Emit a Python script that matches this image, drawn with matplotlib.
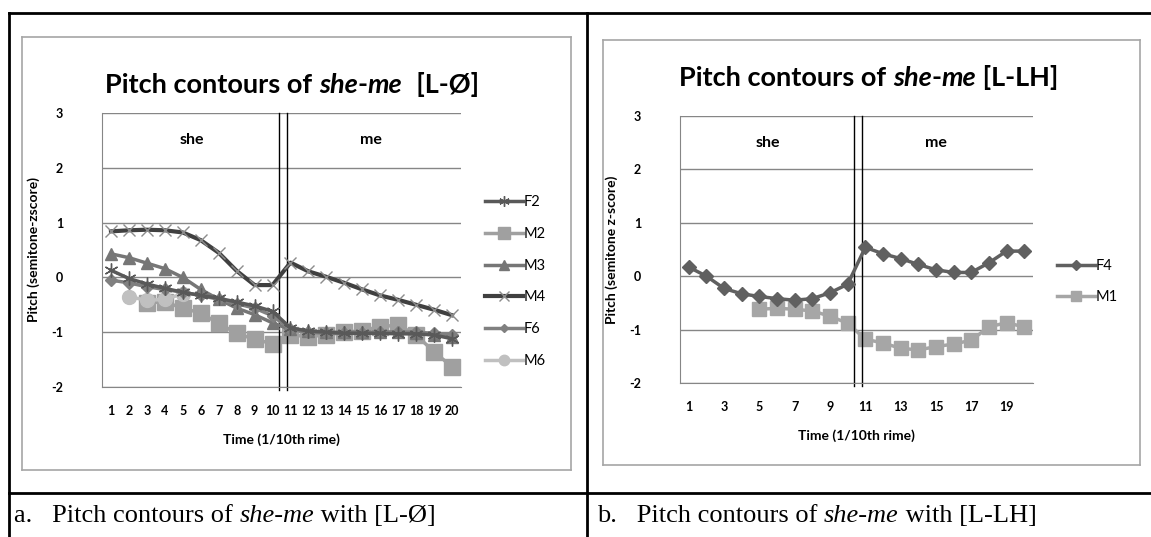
import matplotlib.pyplot as plt
from matplotlib.lines import Line2D

W, H = 1151, 537

# time points (1/10th of the rime)
frames = list(range(1, 21))

# [L-Ø] speakers
f2 = [0.13, -0.02, -0.12, -0.2, -0.27, -0.33, -0.38, -0.45, -0.52, -0.62,
      -0.92, -0.98, -1.0, -1.02, -1.02, -1.02, -1.03, -1.03, -1.05, -1.12]
m2_x = list(range(3, 21))
m2 = [-0.46, -0.45, -0.56, -0.65, -0.84, -1.02, -1.13, -1.21,
      -1.05, -1.08, -1.05, -1.0, -0.97, -0.9, -0.87, -1.05, -1.36, -1.63]
m3 = [0.43, 0.36, 0.26, 0.16, 0.0, -0.22, -0.4, -0.56, -0.68, -0.83,
      -0.95, -0.98, -1.0, -1.0, -1.0, -1.0, -1.0, -1.02, -1.05, -1.08]
m4 = [0.84, 0.86, 0.87, 0.86, 0.82, 0.68, 0.45, 0.12, -0.14, -0.14,
      0.27, 0.11, 0.01, -0.1, -0.22, -0.33, -0.41, -0.5, -0.59, -0.69]
f6 = [-0.05, -0.1, -0.17, -0.22, -0.27, -0.33, -0.4, -0.48, -0.56, -0.7,
      -0.95, -1.0, -1.02, -1.02, -1.02, -1.0, -1.0, -1.0, -1.02, -1.05]
m6_x = [2, 3, 4, 5]
m6 = [-0.35, -0.42, -0.4, -0.3]

# [L-LH] speakers
f4 = [0.17, 0.0, -0.23, -0.33, -0.38, -0.42, -0.45, -0.42, -0.31, -0.15,
      0.54, 0.42, 0.33, 0.22, 0.12, 0.07, 0.07, 0.25, 0.47, 0.47]
m1_x = list(range(5, 21))
m1 = [-0.62, -0.6, -0.62, -0.65, -0.75, -0.88, -1.18, -1.25, -1.35, -1.38,
      -1.32, -1.27, -1.2, -0.95, -0.87, -0.95]

fig = plt.figure(figsize=(W / 100, H / 100), dpi=100)
fig.patch.set_facecolor('white')
renderer = fig.canvas.get_renderer()

def px_axes(x0, y0, x1, y1):
    return fig.add_axes([x0 / W, 1 - y1 / H, (x1 - x0) / W, (y1 - y0) / H])

def fig_line(x0, y0, x1, y1, color='black', lw=2):
    fig.add_artist(Line2D([x0 / W, x1 / W], [1 - y0 / H, 1 - y1 / H],
                          color=color, lw=lw))

def rich_text(x, y, pieces, align='left', **kw):
    # pieces: list of (text, style) drawn one after another on a baseline
    arts = [fig.text(0, 1 - y / H, t, style=s, va='baseline', **kw) for t, s in pieces]
    widths = [a.get_window_extent(renderer).width for a in arts]
    cur = x - (sum(widths) / 2 if align == 'center' else 0)
    for a, w in zip(arts, widths):
        a.set_x(cur / W)
        cur += w

# table borders
fig_line(9, 13, W, 13)
fig_line(9, 13, 9, H)
fig_line(587, 13, 587, H)
fig_line(9, 493, W, 493)

# chart frames
for x0, y0, x1, y1 in [(22, 37, 571, 470), (603, 40, 1140, 465)]:
    fig_line(x0, y0, x1, y0, '#a6a6a6', 1.2)
    fig_line(x0, y1, x1, y1, '#a6a6a6', 1.2)
    fig_line(x0, y0, x0, y1, '#a6a6a6', 1.2)
    fig_line(x1, y0, x1, y1, '#a6a6a6', 1.2)

tick_font = dict(family='Lato', weight='bold', size=9)
label_kw = dict(family='Lato', weight='bold', size=10)

def style_axes(ax, ticks, ylabel):
    ax.set_xlim(0.5, 20.5)
    ax.set_ylim(-2, 3)
    ax.set_yticks([-2, -1, 0, 1, 2, 3])
    ax.set_xticks(ticks)
    ax.set_xticklabels([str(t) for t in ticks], fontdict=tick_font)
    ax.set_yticklabels(['-2', '-1', '0', '1', '2', '3'], fontdict=tick_font)
    ax.tick_params(axis='x', length=0, pad=13)
    ax.tick_params(axis='y', length=0, pad=28)
    ax.yaxis.grid(True, color='#868686', lw=1)
    ax.set_axisbelow(True)
    for s in ['top', 'right']:
        ax.spines[s].set_visible(False)
    for s in ['left', 'bottom']:
        ax.spines[s].set_color('#868686')
    ax.set_xlabel('Time (1/10th rime)', labelpad=12, **label_kw)
    ax.set_ylabel(ylabel, labelpad=8, **label_kw)
    for xv in (10.36, 10.81):
        ax.axvline(xv, ymin=-0.01, ymax=1, color='black', lw=1, clip_on=False)
    ax.text(5.5, 2.5, 'she', ha='center', va='center', family='Lato', weight='bold', size=11.5)

legend_kw = dict(frameon=False, handlelength=2.6, handletextpad=0.05,
                 prop=dict(family='Lato', size=10.5), markerscale=0.75)

# a. [L-Ø]
ax1 = px_axes(102, 113, 461, 387)
ax1.plot(frames, m4, color='#404040', lw=3, marker='x', ms=9, mew=1,
         mec='#8c8c8c', label='M4', zorder=3)
ax1.plot(frames, f2, color='#595959', lw=2.5, marker=(6, 2, 0), ms=10, mew=1,
         mec='#595959', label='F2', zorder=4)
ax1.plot(m2_x, m2, color='#a0a0a0', lw=2.5, marker='s', ms=11, label='M2', zorder=2)
ax1.plot(frames, m3, color='#767676', lw=2.5, marker='^', ms=9, label='M3', zorder=3)
ax1.plot(frames, f6, color='#808080', lw=2.5, marker='D', ms=6, label='F6', zorder=3)
ax1.plot(m6_x, m6, color='#c0c0c0', lw=2.5, marker='o', ms=10, label='M6', zorder=2)
style_axes(ax1, frames, 'Pitch (semitone-zscore)')
ax1.text(15.5, 2.5, 'me', ha='center', va='center', family='Lato', weight='bold', size=11.5)
handles, labels = ax1.get_legend_handles_labels()
order = ['F2', 'M2', 'M3', 'M4', 'F6', 'M6']
hl = dict(zip(labels, handles))
ax1.legend([hl[k] for k in order], order, loc='center left',
           bbox_to_anchor=(1.03, 0.385), labelspacing=1.22, **legend_kw)
title_kw = dict(family='Lato', weight='bold', size=19.5)
rich_text(292, 93, [('Pitch contours of ', 'normal'), ('she', 'italic'),
                    ('-', 'normal'), ('me', 'italic'), ('  [L-Ø]', 'normal')],
          align='center', **title_kw)

# b. [L-LH]
ax2 = px_axes(680, 116, 1033, 383)
ax2.plot(frames, f4, color='#606060', lw=2.5, marker='D', ms=7, label='F4', zorder=3)
ax2.plot(m1_x, m1, color='#a6a6a6', lw=2.5, marker='s', ms=10, label='M1', zorder=2)
style_axes(ax2, list(range(1, 21, 2)), 'Pitch (semitone z-score)')
ax2.text(15.0, 2.5, 'me', ha='center', va='center', family='Lato', weight='bold', size=11.5)
ax2.legend(loc='center left', bbox_to_anchor=(1.03, 0.38), labelspacing=1.22, **legend_kw)
rich_text(869, 86, [('Pitch contours of ', 'normal'), ('she', 'italic'),
                    ('-', 'normal'), ('me', 'italic'), (' [L-LH]', 'normal')],
          align='center', **title_kw)

# captions
cap_kw = dict(family='Liberation Serif', size=19)
rich_text(14, 522, [('a.   Pitch contours of ', 'normal'), ('she-me', 'italic'),
                    (' with [L-Ø]', 'normal')], **cap_kw)
rich_text(597, 522, [('b.   Pitch contours of ', 'normal'), ('she-me', 'italic'),
                     (' with [L-LH]', 'normal')], **cap_kw)

fig.savefig('out.png', dpi=100)
